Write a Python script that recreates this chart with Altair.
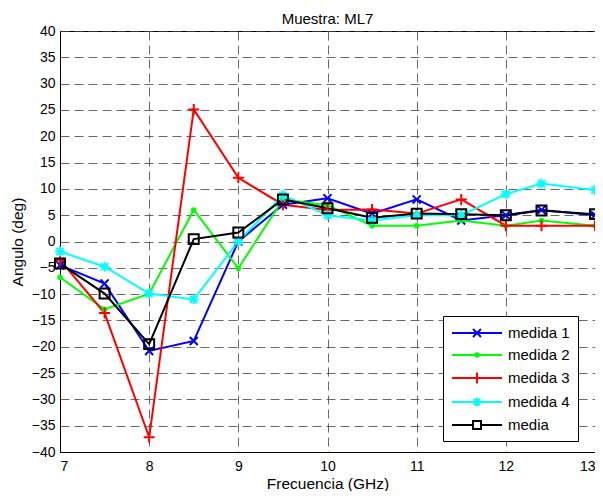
import altair as alt
import pandas as pd

freq = [7, 7.5, 8, 8.5, 9, 9.5, 10, 10.5, 11, 11.5, 12, 12.4, 13]
medida1 = [-4.5, -8, -20.8, -18.9, 0, 7, 8.2, 5.3, 8, 4, 5, 6, 5]
medida2 = [-6.8, -12.9, -9.9, 6, -5.1, 8, 6.9, 3, 3, 4, 3, 4, 3]
medida3 = [-3.5, -13.6, -37.2, 25.1, 12.1, 7, 6, 6.1, 5.3, 8, 3, 3, 3]
medida4 = [-1.9, -4.8, -9.9, -11, 0, 8.8, 5, 4, 5, 5, 9, 11, 9.8]
media = [-4.2, -9.9, -19.5, 0.45, 1.7, 8.0, 6.3, 4.5, 5.3, 5.2, 5, 5.9, 5.2]

series = ["medida 1", "medida 2", "medida 3", "medida 4", "media"]
colors = ["#0000ff", "#00ff00", "#ff0000", "#00ffff", "#000000"]
values = [medida1, medida2, medida3, medida4, media]

x_ticks = [7, 8, 9, 10, 11, 12, 13]
y_ticks = list(range(-40, 45, 5))

rows = []
for s, vals in zip(series, values):
    for f, v in zip(freq, vals):
        rows.append({"freq": f, "angle": v, "serie": s})
df = pd.DataFrame(rows)

# marker paths (drawn at size 144 -> 12px box)
marker_paths = {
    "medida 1": "M-0.67,-0.67L0.67,0.67M-0.67,0.67L0.67,-0.67",
    "medida 2": "M0.3,0A0.3,0.3,0,1,1,-0.3,0A0.3,0.3,0,1,1,0.3,0Z",
    "medida 3": "M-0.92,0L0.92,0M0,-0.92L0,0.92",
    "medida 4": "M-0.83,0L0.83,0M0,-0.83L0,0.83M-0.6,-0.6L0.6,0.6M-0.6,0.6L0.6,-0.6",
    "media": "M-0.83,-0.83L0.83,-0.83L0.83,0.83L-0.83,0.83Z",
}
# legend paths (size 256 -> 8px per unit); line from -8px to +42px, marker at +17px
legend_paths = {
    "medida 1": "M-1,0L5.25,0M1.625,-0.5L2.625,0.5M1.625,0.5L2.625,-0.5",
    "medida 2": "M-1,0L5.25,0M2.345,0A0.22,0.22,0,1,1,1.905,0A0.22,0.22,0,1,1,2.345,0",
    "medida 3": "M-1,0L5.25,0M2.125,-0.69L2.125,0.69",
    "medida 4": "M-1,0L5.25,0M2.125,-0.56L2.125,0.56M1.725,-0.4L2.525,0.4M1.725,0.4L2.525,-0.4",
    "media": "M-1,0L1.625,0M2.625,0L5.25,0M1.625,-0.5L2.625,-0.5L2.625,0.5L1.625,0.5Z",
}


def switch_expr(field, mapping):
    e = "'" + mapping[series[-1]] + "'"
    for s in reversed(series[:-1]):
        e = f"{field} === '{s}' ? '{mapping[s]}' : ({e})"
    return e


legend = alt.Legend(
    title=None,
    orient="none",
    legendX=383,
    legendY=285,
    padding=8,
    strokeColor="black",
    fillColor="white",
    cornerRadius=0,
    labelFontSize=15,
    labelFont="Liberation Sans",
    labelColor="black",
    labelOffset=39,
    rowPadding=5,
    symbolSize=256,
    symbolStrokeWidth=2,
    symbolFillColor="transparent",
    symbolType={"expr": switch_expr("datum.value", legend_paths)},
)

color = alt.Color("serie:N", scale=alt.Scale(domain=series, range=colors), legend=legend)

x_enc = alt.X(
    "freq:Q",
    scale=alt.Scale(domain=[7, 13], nice=False, zero=False),
    axis=alt.Axis(values=x_ticks, title="Frecuencia (GHz)", format="d"),
)
y_enc = alt.Y(
    "angle:Q",
    scale=alt.Scale(domain=[-40, 40], nice=False),
    axis=alt.Axis(values=y_ticks, title="Angulo (deg)"),
)

lines = alt.Chart(df).mark_line(strokeWidth=2).encode(
    x=x_enc, y=y_enc, color=color, order=alt.Order("freq:Q")
)
points = alt.Chart(df).transform_calculate(
    marker=switch_expr("datum.serie", marker_paths)
).mark_point(filled=False, strokeWidth=2, opacity=1, size=144).encode(
    x=x_enc,
    y=y_enc,
    color=color,
    shape=alt.Shape("marker:N", scale=None),
)

chart = alt.layer(lines, points).properties(
    width=535,
    height=421,
    title=alt.Title("Muestra: ML7", fontSize=15, fontWeight="normal", font="Liberation Sans",
                    color="black", offset=-3),
    autosize=alt.AutoSizeParams(type="none"),
    padding={"left": 52, "top": 23, "right": 0, "bottom": 39},
).configure_view(
    stroke="black", strokeWidth=1
).configure_axis(
    labelFont="Liberation Sans",
    titleFont="Liberation Sans",
    labelFontSize=14,
    titleFontSize=15.5,
    titleFontWeight="normal",
    labelColor="black",
    titleColor="black",
    domainColor="black",
    domainWidth=1,
    tickSize=0,
    grid=True,
    gridColor="#444444",
    gridDash=[9, 5],
    gridWidth=1,
    gridOpacity=0.8,
).configure_axisX(
    labelPadding=7, titlePadding=3
).configure_axisY(
    labelPadding=5, titlePadding=6
)

chart.save("out.html", embed_options={"renderer": "svg", "actions": False})
